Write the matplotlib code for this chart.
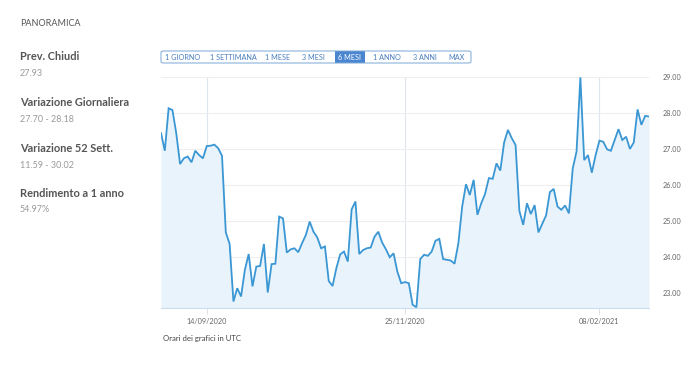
import numpy as np
import matplotlib
matplotlib.use("Agg")
import matplotlib.pyplot as plt
from matplotlib.patches import Rectangle, FancyBboxPatch

plt.rcParams["font.family"] = ["Lato", "DejaVu Sans"]

# prezzi di chiusura (6 mesi, sedute di borsa)
prices = [
    27.44, 26.95, 28.13, 28.08, 27.44, 26.58, 26.74, 26.79, 26.63, 26.95, 26.83,
    26.74, 27.08, 27.09, 27.12, 27.02, 26.81, 24.68, 24.36, 22.76, 23.13, 22.90,
    23.64, 24.08, 23.18, 23.73, 23.75, 24.36, 23.01, 23.80, 23.81, 25.12, 25.07,
    24.12, 24.21, 24.24, 24.13, 24.38, 24.61, 24.98, 24.70, 24.54, 24.24, 24.29,
    23.33, 23.19, 23.69, 24.07, 24.15, 23.87, 25.32, 25.54, 24.08, 24.19, 24.24,
    24.26, 24.56, 24.70, 24.40, 24.21, 23.99, 24.10, 23.59, 23.27, 23.30, 23.27,
    22.67, 22.60, 23.94, 24.06, 24.03, 24.15, 24.45, 24.50, 23.94, 23.92, 23.90,
    23.81, 24.38, 25.40, 26.02, 25.72, 26.14, 25.17, 25.49, 25.75, 26.19, 26.17,
    26.60, 26.40, 27.18, 27.53, 27.30, 27.11, 25.28, 24.89, 25.49, 25.19, 25.44,
    24.68, 24.92, 25.15, 25.80, 25.89, 25.40, 25.31, 25.43, 25.21, 26.46, 26.93,
    28.99, 26.69, 26.83, 26.34, 26.83, 27.23, 27.20, 26.99, 26.95, 27.25, 27.55,
    27.25, 27.34, 27.00, 27.18, 28.10, 27.67, 27.92, 27.90,
]
date_labels = ["14/09/2020", "25/11/2020", "08/02/2021"]
date_idx = [12, 64, 115]
y_ticks = [23, 24, 25, 26, 27, 28, 29]

stats = [
    ("Prev. Chiudi", "27.93"),
    ("Variazione Giornaliera", "27.70 - 28.18"),
    ("Variazione 52 Sett.", "11.59 - 30.02"),
    ("Rendimento a 1 anno", "54.97%"),
]
periods = ["1 GIORNO", "1 SETTIMANA", "1 MESE", "3 MESI", "6 MESI", "1 ANNO", "3 ANNI", "MAX"]
active = "6 MESI"

W, H = 700, 365
fig = plt.figure(figsize=(W / 100, H / 100), dpi=100)


def fx(px):
    return px / W


def fy(py):
    return 1 - py / H


# grafico
ax = fig.add_axes([fx(161), fy(308), fx(649) - fx(161), fy(77) - fy(308)])
x = np.arange(len(prices))
ax.fill_between(x, prices, 22.0, color="#e9f3fb", lw=0)
ax.plot(x, prices, color="#3a97d4", lw=1.3, solid_joinstyle="miter")
ax.set_xlim(0, len(prices) - 1)
ax.set_ylim(22.58, 29.0)

ax.set_yticks(y_ticks)
ax.set_yticklabels([f"{v:.2f}" for v in y_ticks])
ax.yaxis.tick_right()
ax.tick_params(axis="y", length=0, pad=10, labelsize=5.2, labelcolor="#666666")
ax.set_xticks(date_idx)
ax.set_xticklabels(date_labels)
ax.tick_params(axis="x", length=4, width=0.6, color="#d5dde6", pad=3,
               labelsize=5.2, labelcolor="#666666")
ax.grid(axis="y", color="#eeeeee", lw=0.8)
ax.grid(axis="x", color="#dfe5ec", lw=0.8)
ax.set_axisbelow(True)
for side in ["left", "right", "top"]:
    ax.spines[side].set_visible(False)
ax.spines["bottom"].set_color("#c9dff0")
ax.spines["bottom"].set_linewidth(0.8)

# pannello di sinistra
fig.text(fx(20), fy(24), "PANORAMICA", fontsize=6.5, color="#555555", va="center")
label_y = [56, 102, 148, 193]
for (name, val), yy in zip(stats, label_y):
    fig.text(fx(20), fy(yy), name, fontsize=7.9, fontweight="bold", color="#555555", va="center")
    fig.text(fx(20), fy(yy + 17), val, fontsize=6.5, color="#9a9a9a", va="center")

# pulsanti periodo
box_l, box_r, box_t, box_b = 161, 471, 51, 63
centers = [183, 233, 278, 313, 349, 387, 425, 457]
for lab, cx in zip(periods, centers):
    if lab == active:
        fig.patches.append(Rectangle((fx(335), fy(box_b)), fx(365) - fx(335), fy(box_t) - fy(box_b),
                                     transform=fig.transFigure, color="#4a86cf", lw=0))
        col = "white"
    else:
        col = "#4a7fbf"
    fig.text(fx(cx), fy(57), lab, fontsize=5.2, color=col, ha="center", va="center")
fig.patches.append(FancyBboxPatch((fx(box_l), fy(box_b)), fx(box_r) - fx(box_l), fy(box_t) - fy(box_b),
                                  boxstyle="round,pad=0,rounding_size=0.004",
                                  transform=fig.transFigure, fill=False, ec="#7aa7d6", lw=0.7))

fig.text(fx(163), fy(339), "Orari dei grafici in UTC", fontsize=5.6, color="#444444", va="center")

fig.savefig("out.png", dpi=100)
